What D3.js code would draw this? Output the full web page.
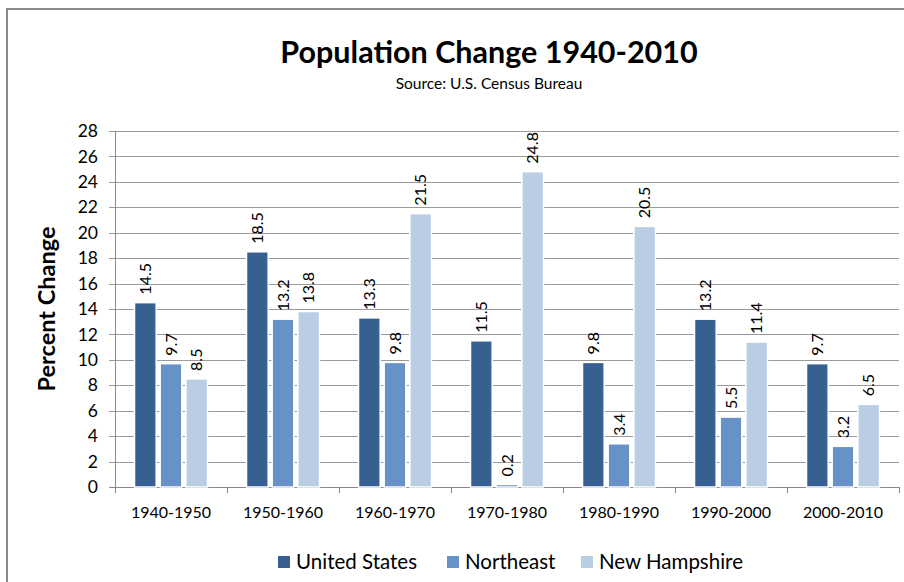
<!DOCTYPE html>
<html>
<head>
<meta charset="utf-8">
<script src="https://cdn.jsdelivr.net/npm/d3@7"></script>
<style>
	body { margin: 0; background: #fff; }
	text { font-family: Lato, "Open Sans", sans-serif; fill: #000; }
</style>
</head>
<body>
<script>
const periods = ['1940-1950', '1950-1960', '1960-1970', '1970-1980', '1980-1990', '1990-2000', '2000-2010'];
const seriesNames = ['United States', 'Northeast', 'New Hampshire'];
const unitedStates = [14.5, 18.5, 13.3, 11.5, 9.8, 13.2, 9.7];
const northeast = [9.7, 13.2, 9.8, 0.2, 3.4, 5.5, 3.2];
const newHampshire = [8.5, 13.8, 21.5, 24.8, 20.5, 11.4, 6.5];
const yTicks = [0, 2, 4, 6, 8, 10, 12, 14, 16, 18, 20, 22, 24, 26, 28];
const colors = ['#385f91', '#6792c8', '#b9cde5'];

const width = 904, height = 582;
const values = [unitedStates, northeast, newHampshire];

const svg = d3.select('body').append('svg')
	.attr('width', width)
	.attr('height', height);

// outer frame (runs off right/bottom edge)
svg.append('rect')
	.attr('x', 7).attr('y', 9)
	.attr('width', 920).attr('height', 600)
	.attr('fill', 'none')
	.attr('stroke', '#8a8a8a')
	.attr('stroke-width', 2);

const x0 = d3.scaleBand()
	.domain(periods)
	.range([115, 899]);

const x1 = d3.scaleBand()
	.domain(seriesNames)
	.range([17.5, x0.bandwidth() - 17.5]);

const y = d3.scaleLinear()
	.domain([0, 28])
	.range([487, 131]);

// gridlines
svg.append('g')
	.selectAll('line')
	.data(yTicks)
	.join('line')
	.attr('x1', 109).attr('x2', 899)
	.attr('y1', d => Math.round(y(d)) + 0.5)
	.attr('y2', d => Math.round(y(d)) + 0.5)
	.attr('stroke', d => d === 0 ? '#888' : '#9a9a9a')
	.attr('stroke-width', 1);

// y axis line
svg.append('line')
	.attr('x1', 115.5).attr('x2', 115.5)
	.attr('y1', y(28)).attr('y2', y(0))
	.attr('stroke', '#888');

// y tick labels
svg.append('g')
	.selectAll('text')
	.data(yTicks)
	.join('text')
	.attr('x', 98)
	.attr('y', d => y(d))
	.attr('dy', '0.35em')
	.attr('text-anchor', 'end')
	.style('font-size', '17.5px')
	.text(d => d);

// x category ticks
svg.append('g')
	.selectAll('line')
	.data(d3.range(periods.length + 1))
	.join('line')
	.attr('x1', i => Math.round(115 + i * x0.step()) + 0.5)
	.attr('x2', i => Math.round(115 + i * x0.step()) + 0.5)
	.attr('y1', y(0)).attr('y2', y(0) + 6)
	.attr('stroke', '#888');

// x labels
svg.append('g')
	.selectAll('text')
	.data(periods)
	.join('text')
	.attr('x', d => x0(d) + x0.bandwidth() / 2)
	.attr('y', 518)
	.attr('text-anchor', 'middle')
	.style('font-size', '16px')
	.text(d => d);

// bars
const group = svg.append('g')
	.selectAll('g')
	.data(periods)
	.join('g')
	.attr('transform', d => `translate(${x0(d)},0)`);

const barData = (p, i) => seriesNames.map((s, k) => ({ series: s, k: k, value: values[k][i] }));

group.selectAll('rect.bar')
	.data(barData)
	.join('rect')
	.attr('class', 'bar')
	.attr('x', d => x1(d.series) + 2)
	.attr('width', x1.bandwidth() - 4)
	.attr('y', d => y(d.value))
	.attr('height', d => y(0) - y(d.value))
	.attr('fill', d => colors[d.k])
	.attr('stroke', '#fff')
	.attr('stroke-width', 1.5);

// value labels, rotated
group.selectAll('text.val')
	.data(barData)
	.join('text')
	.attr('class', 'val')
	.attr('transform', d => `translate(${x1(d.series) + x1.bandwidth() / 2 + 5.5},${y(d.value) - 8}) rotate(-90)`)
	.attr('text-anchor', 'start')
	.style('font-size', '16px')
	.text(d => d.value.toFixed(1));

// title
svg.append('text')
	.attr('x', 489).attr('y', 63)
	.attr('text-anchor', 'middle')
	.style('font-size', '30.5px')
	.style('font-weight', 'bold')
	.text('Population Change 1940-2010');

svg.append('text')
	.attr('x', 489).attr('y', 89)
	.attr('text-anchor', 'middle')
	.style('font-size', '15.5px')
	.text('Source: U.S. Census Bureau');

// y axis title
svg.append('text')
	.attr('transform', 'translate(55,309) rotate(-90)')
	.attr('text-anchor', 'middle')
	.style('font-size', '23.5px')
	.style('font-weight', 'bold')
	.text('Percent Change');

// legend
const legendX = [278, 447, 581];
const legend = svg.append('g')
	.selectAll('g')
	.data(seriesNames)
	.join('g')
	.attr('transform', (d, i) => `translate(${legendX[i]},556)`);

legend.append('rect')
	.attr('width', 12).attr('height', 12)
	.attr('fill', (d, i) => colors[i]);

legend.append('text')
	.attr('x', 18).attr('y', 13)
	.style('font-size', '20.5px')
	.text(d => d);
</script>
</body>
</html>
